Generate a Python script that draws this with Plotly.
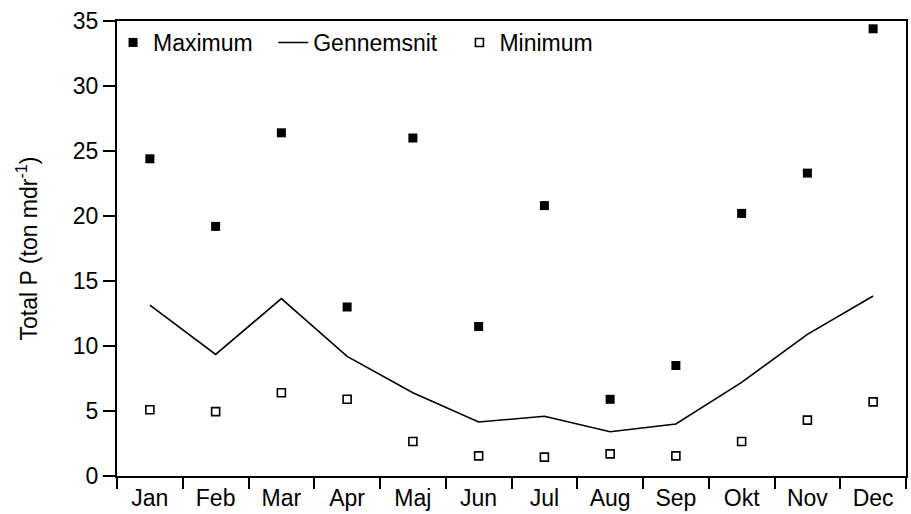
import plotly.graph_objects as go

months = ["Jan", "Feb", "Mar", "Apr", "Maj", "Jun", "Jul", "Aug", "Sep", "Okt", "Nov", "Dec"]
maximum = [24.4, 19.2, 26.4, 13.0, 26.0, 11.5, 20.8, 5.9, 8.5, 20.2, 23.3, 34.4]
gennemsnit = [13.15, 9.35, 13.65, 9.2, 6.4, 4.15, 4.6, 3.4, 4.0, 7.2, 10.9, 13.85]
minimum = [5.1, 4.95, 6.4, 5.9, 2.65, 1.55, 1.45, 1.7, 1.55, 2.65, 4.3, 5.7]

font = dict(family="Liberation Sans, Arial, sans-serif", size=23, color="black")

fig = go.Figure()
fig.add_trace(go.Scatter(
    x=months, y=maximum, mode="markers", name="Maximum", legend="legend",
    marker=dict(symbol="square", size=9, color="black", line=dict(width=0)),
))
fig.add_trace(go.Scatter(
    x=months, y=gennemsnit, mode="lines", name="Gennemsnit", legend="legend2",
    line=dict(color="black", width=1.6),
))
fig.add_trace(go.Scatter(
    x=months, y=minimum, mode="markers", name="Minimum", legend="legend3",
    marker=dict(symbol="square-open", size=8, color="black", line=dict(width=1.6)),
))

# one legend box per series, laid out in a row along the top of the frame
legend_style = dict(
    orientation="h", y=1.0, xanchor="left", yanchor="top",
    bgcolor="rgba(0,0,0,0)", font=dict(size=23), itemwidth=30,
)

fig.update_layout(
    width=911, height=514,
    margin=dict(l=117, r=3, t=21, b=38),
    paper_bgcolor="white", plot_bgcolor="white",
    font=font,
    showlegend=True,
    legend=dict(x=-0.005, **legend_style),
    legend2=dict(x=0.198, **legend_style),
    legend3=dict(x=0.434, **legend_style),
)
fig.update_xaxes(
    type="category", categoryorder="array", categoryarray=months,
    range=[-0.5, 11.5], tickson="boundaries",
    showline=True, linecolor="black", linewidth=2, mirror=True,
    ticks="outside", ticklen=11, tickwidth=1.5, tickcolor="black",
    showgrid=False, zeroline=False, tickfont=font,
)
fig.update_yaxes(
    range=[0, 35], tickvals=[0, 5, 10, 15, 20, 25, 30, 35],
    showline=True, linecolor="black", linewidth=2, mirror=True,
    ticks="outside", ticklen=12, tickwidth=1.5, tickcolor="black",
    showgrid=False, zeroline=False, tickfont=font,
    title=dict(text="Total P (ton mdr<sup>-1</sup>)", font=dict(size=23), standoff=29),
)

fig.write_html("out.html")
